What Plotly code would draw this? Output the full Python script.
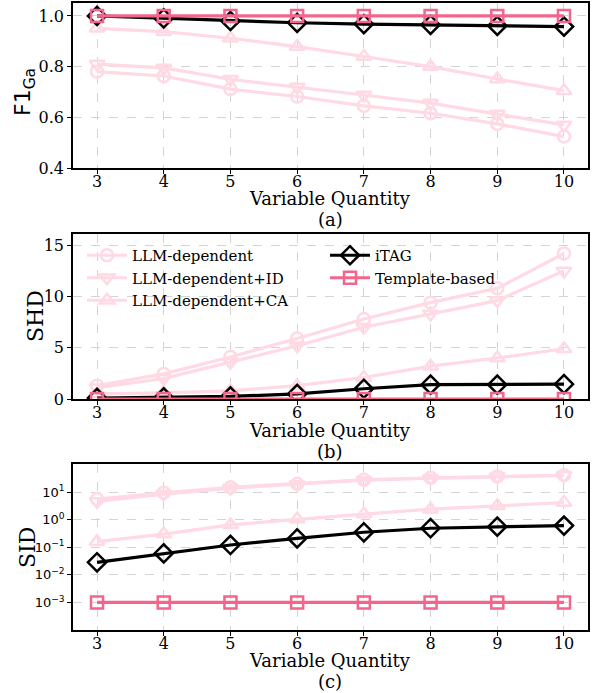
import plotly.graph_objects as go

x_vals = [3, 4, 5, 6, 7, 8, 9, 10]

series_names = ["LLM-dependent", "LLM-dependent+ID", "LLM-dependent+CA", "iTAG", "Template-based"]

f1_llm = [0.78, 0.763, 0.711, 0.682, 0.645, 0.616, 0.574, 0.524]
f1_id = [0.81, 0.795, 0.75, 0.72, 0.688, 0.656, 0.613, 0.57]
f1_ca = [0.951, 0.938, 0.912, 0.879, 0.84, 0.80, 0.751, 0.705]
f1_itag = [1.0, 0.99, 0.98, 0.973, 0.968, 0.965, 0.961, 0.958]
f1_tmpl = [1.0, 1.0, 1.0, 1.0, 1.0, 1.0, 1.0, 1.0]

shd_llm = [1.3, 2.45, 4.1, 5.9, 7.8, 9.4, 10.8, 14.2]
shd_id = [1.1, 2.0, 3.6, 5.2, 7.0, 8.3, 9.6, 12.5]
shd_ca = [0.5, 0.6, 0.8, 1.3, 2.1, 3.2, 4.0, 4.9]
shd_itag = [0.1, 0.15, 0.25, 0.5, 1.0, 1.4, 1.4, 1.45]
shd_tmpl = [0.0, 0.0, 0.0, 0.0, 0.0, 0.0, 0.0, 0.0]

sid_llm = [5.6, 9.5, 15.0, 20.0, 28.0, 33.0, 37.0, 41.0]
sid_id = [4.6, 8.5, 14.0, 19.0, 27.0, 32.0, 36.0, 40.0]
sid_ca = [0.16, 0.3, 0.65, 1.05, 1.6, 2.4, 3.2, 4.2]
sid_itag = [0.0285, 0.06, 0.121, 0.21, 0.35, 0.49, 0.56, 0.61]
sid_tmpl = [0.001, 0.001, 0.001, 0.001, 0.001, 0.001, 0.001, 0.001]

x_ticks = [3, 4, 5, 6, 7, 8, 9, 10]
f1_ticks = [0.4, 0.6, 0.8, 1.0]
f1_ticklabels = ["0.4", "0.6", "0.8", "1.0"]
shd_ticks = [0, 5, 10, 15]
sid_ticks = [1e-3, 1e-2, 1e-1, 1, 10]
sid_ticklabels = ["10<sup>−3</sup>", "10<sup>−2</sup>", "10<sup>−1</sup>", "10<sup>0</sup>", "10<sup>1</sup>"]

pale = "#FFD9E3"
pink = "#F2668B"
styles = [
    dict(color=pale, symbol="circle-open", size=12),
    dict(color=pale, symbol="triangle-down-open", size=13),
    dict(color=pale, symbol="triangle-up-open", size=13),
    dict(color="black", symbol="diamond-open", size=14),
    dict(color=pink, symbol="square-open", size=12),
]

panels = [
    [f1_llm, f1_id, f1_ca, f1_itag, f1_tmpl],
    [shd_llm, shd_id, shd_ca, shd_itag, shd_tmpl],
    [sid_llm, sid_id, sid_ca, sid_itag, sid_tmpl],
]

fig = go.Figure()
for p, data in enumerate(panels):
    ax = "" if p == 0 else str(p + 1)
    for i, (name, ys) in enumerate(zip(series_names, data)):
        st = styles[i]
        fig.add_trace(go.Scatter(
            x=x_vals, y=ys, name=name, mode="lines+markers",
            line=dict(color=st["color"], width=3.2),
            marker=dict(symbol=st["symbol"], size=st["size"], color=st["color"],
                        line=dict(width=2.5, color=st["color"])),
            xaxis="x" + ax, yaxis="y" + ax,
            showlegend=(p == 1),
            legend="legend" if i < 3 else "legend2",
        ))

W, H = 592, 693
xd = [73 / W, 588 / W]
def yd(top, bot):
    return [1 - bot / H, 1 - top / H]

axis_common = dict(
    showline=True, linecolor="black", linewidth=1.5, mirror=True,
    ticks="outside", ticklen=4, tickwidth=1, tickcolor="black",
    showgrid=True, gridcolor="#d4d4d4", gridwidth=0.8, griddash="dash",
    zeroline=False, automargin=False,
    tickfont=dict(family="DejaVu Serif", size=16, color="black"),
)

layout = dict(
    width=W, height=H, margin=dict(l=0, r=0, t=0, b=0, pad=0, autoexpand=False),
    plot_bgcolor="white", paper_bgcolor="white",
    showlegend=True,
)
for p, (top, bot) in enumerate([(3, 168), (234, 399), (464, 630)]):
    ax = "" if p == 0 else str(p + 1)
    layout["xaxis" + ax] = dict(axis_common, domain=xd, range=[2.64, 10.36],
                                tickvals=x_ticks, anchor="y" + ax, ticklabelstandoff=-6)
    yax = dict(axis_common, domain=yd(top, bot), anchor="x" + ax)
    if p == 0:
        yax.update(range=[0.4, 1.051], tickvals=f1_ticks, ticktext=f1_ticklabels)
    elif p == 1:
        yax.update(range=[0, 16.1], tickvals=shd_ticks)
    else:
        yax.update(type="log", range=[-4.0, 2.02], tickvals=sid_ticks, ticktext=sid_ticklabels,
                   tickfont=dict(family="DejaVu Sans", size=13, color="black"))
    layout["yaxis" + ax] = yax

legend_font = dict(family="DejaVu Serif", size=15, color="black")
layout["legend"] = dict(x=82 / W, y=1 - 239 / H, xanchor="left", yanchor="top",
                        bgcolor="rgba(255,255,255,0)", font=legend_font,
                        tracegroupgap=0, itemwidth=40)
layout["legend2"] = dict(x=325 / W, y=1 - 239 / H, xanchor="left", yanchor="top",
                         bgcolor="rgba(255,255,255,0)", font=legend_font,
                         tracegroupgap=0, itemwidth=40)
fig.update_layout(**layout)

cx = (73 + 588) / 2 / W
lab_font = dict(family="DejaVu Serif", size=18, color="black")
ann = []
for (yq, ylab) in [(198, "(a)"), (430, "(b)"), (660, "(c)")]:
    ann.append(dict(x=cx, y=1 - yq / H, xref="paper", yref="paper", text="Variable Quantity",
                    xanchor="center", yanchor="middle", showarrow=False, font=lab_font))
    ann.append(dict(x=cx, y=1 - (yq + 21) / H, xref="paper", yref="paper", text=ylab,
                    xanchor="center", yanchor="middle", showarrow=False, font=lab_font))
ann.append(dict(x=25 / W, y=1 - 92 / H, xref="paper", yref="paper", text="F1<sub>Ga</sub>",
                xanchor="center", yanchor="middle",
                textangle=-90, showarrow=False, font=dict(family="DejaVu Sans", size=22, color="black")))
ann.append(dict(x=36 / W, y=1 - 316 / H, xref="paper", yref="paper", text="SHD",
                xanchor="center", yanchor="middle",
                textangle=-90, showarrow=False, font=dict(family="DejaVu Serif", size=22, color="black")))
ann.append(dict(x=27 / W, y=1 - 548 / H, xref="paper", yref="paper", text="SID",
                xanchor="center", yanchor="middle",
                textangle=-90, showarrow=False, font=dict(family="DejaVu Serif", size=22, color="black")))
fig.update_layout(annotations=ann)

fig.write_html("out.html", config={"displayModeBar": False},
               post_script="document.body.style.margin='0px';")
